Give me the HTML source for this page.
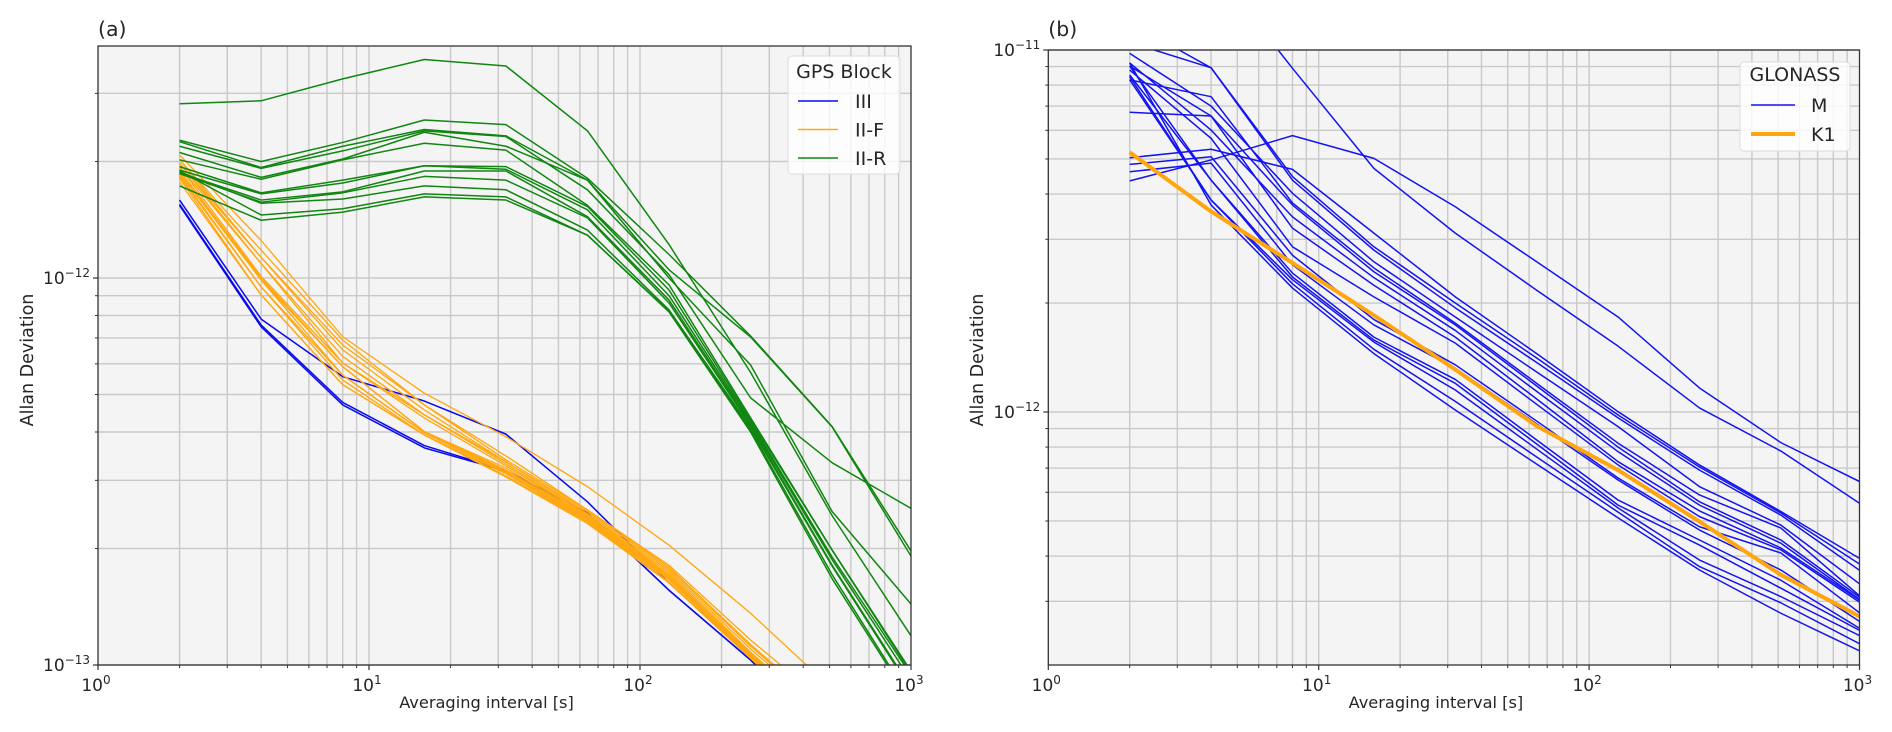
<!DOCTYPE html>
<html lang="en">
<head>
<meta charset="utf-8">
<title>Allan deviation of GPS and GLONASS clocks</title>
<style>
html,body{margin:0;padding:0;background:#fff;width:1892px;height:732px;overflow:hidden}
svg{display:block;overflow:hidden;filter:blur(0.3px)}
text{font-family:"DejaVu Sans","Liberation Sans",sans-serif;fill:#262626}
</style>
</head>
<body>
<svg id="chart" xmlns="http://www.w3.org/2000/svg" width="1892" height="732" viewBox="0 0 1892 732">
  <defs>
    <clipPath id="clip-a"><rect x="98" y="46" width="813" height="619"/></clipPath>
    <clipPath id="clip-b"><rect x="1048.3" y="50" width="811.2" height="615"/></clipPath>
  </defs>
  <g id="panel-a"></g>
  <g id="panel-b"></g>
</svg>
<script>
// Averaging intervals [s]
const tau = [2, 4, 8, 16, 32, 64, 128, 256, 512, 1024];
// Allan deviation values, in units of 1e-12
const gpsIII = [
  [1.59,0.783,0.556,0.481,0.395,0.264,0.163,0.105,0.0645,0.04],
  [1.55,0.756,0.477,0.369,0.318,0.247,0.156,0.103,0.064,0.039],
  [1.54,0.748,0.47,0.364,0.317,0.247,0.156,0.103,0.0635,0.039]
];
const gpsIIF = [
  [2.08,1.25,.705,.504,.389,.289,.204,.136,.0867,.055],
  [2.02,1.18,.691,.47,.347,.2515,.181,.116,.0775,.05],
  [2.02,1.13,.671,.47,.339,.2515,.179,.113,.074,.047],
  [1.98,1.13,.652,.456,.335,.249,.177,.112,.073,.047],
  [1.98,1.09,.627,.443,.335,.246,.175,.11,.072,.046],
  [1.94,1.09,.603,.443,.331,.244,.173,.108,.0695,.044],
  [1.94,1.01,.603,.435,.327,.243,.171,.107,.0695,.044],
  [1.90,1.0,.59,.401,.323,.241,.17,.1065,.0686,.0433],
  [1.90,.988,.59,.401,.319,.24,.169,.106,.0686,.0433],
  [1.87,.988,.561,.398,.317,.238,.168,.105,.068,.0428],
  [1.85,.948,.561,.398,.314,.237,.167,.105,.068,.0428],
  [1.83,.948,.545,.393,.312,.235,.166,.105,.067,.0422],
  [1.77,.904,.53,.393,.308,.234,.164,.104,.067,.0422],
  [1.81,.904,.53,.393,.306,.232,.163,.104,.0665,.0417]
];
const gpsIIR = [
  [2.82,2.87,3.27,3.67,3.53,2.40,1.22,0.57,0.243,0.116],
  [2.27,2.00,2.24,2.56,2.49,1.81,1.15,0.708,0.413,0.192],
  [2.25,1.93,2.19,2.42,2.33,1.79,1.05,0.704,0.412,0.186],
  [2.19,1.92,2.13,2.40,2.32,1.69,1.02,0.49,0.333,0.2515],
  [2.11,1.82,2.03,2.38,2.19,1.79,1.00,0.596,0.249,0.141],
  [2.02,1.80,2.02,2.23,2.14,1.54,.96,.435,.198,.094],
  [1.94,1.66,1.79,1.95,1.94,1.53,.931,.43,.198,.093],
  [1.90,1.65,1.76,1.95,1.91,1.50,.90,.425,.19,.092],
  [1.87,1.59,1.67,1.89,1.89,1.44,.877,.42,.187,.089],
  [1.86,1.57,1.66,1.83,1.79,1.43,.862,.415,.181,.085],
  [1.88,1.56,1.60,1.73,1.69,1.33,.827,.41,.18,.084],
  [1.89,1.455,1.51,1.65,1.62,1.29,.82,.405,.171,.079],
  [1.73,1.41,1.48,1.62,1.59,1.29,.817,.40,.167,.078]
];
const glonassM = [
  [4.35,4.97,5.80,5.02,3.69,2.60,1.83,1.165,.823,.637],
  [25.2,17.2,8.90,4.71,3.12,2.17,1.52,1.026,.78,.553],
  [5.04,5.32,4.68,3.12,2.08,1.45,1.002,.714,.531,.39],
  [10.5,8.93,4.47,2.86,2.00,1.41,.981,.705,.526,.376],
  [11.9,8.93,4.37,2.80,1.94,1.37,.963,.691,.519,.361],
  [9.79,7.00,4.02,2.60,1.83,1.29,.911,.622,.487,.331],
  [8.27,7.43,3.78,2.50,1.76,1.20,.82,.59,.478,.306],
  [6.73,6.57,3.73,2.44,1.74,1.18,.80,.565,.443,.304],
  [9.21,6.01,3.46,2.35,1.68,1.14,.777,.553,.434,.30],
  [9.03,6.57,3.22,2.24,1.61,1.086,.729,.533,.421,.299],
  [8.80,5.70,2.86,2.08,1.55,1.05,.714,.514,.416,.295],
  [4.83,5.07,2.71,1.80,1.35,.944,.657,.482,.408,.275],
  [4.61,4.87,2.55,1.74,1.32,.927,.649,.472,.366,.261],
  [9.03,4.37,2.42,1.61,1.23,.837,.571,.443,.343,.25],
  [8.53,4.37,2.36,1.58,1.20,.816,.553,.429,.326,.247],
  [8.44,3.85,2.32,1.56,1.15,.79,.543,.39,.309,.239],
  [8.27,3.85,2.26,1.49,1.07,.751,.529,.374,.297,.227],
  [9.21,3.73,2.20,1.45,1.013,.718,.51,.366,.278,.217]
];
const glonassK1 = [5.22,3.58,2.58,1.85,1.31,.915,.691,.498,.355,.27];
// Tick positions
const xMajorTicks = [1, 10, 100, 1000];
const xMajorLabels = ["0", "1", "2", "3"];
const xMinorMultipliers = [2, 3, 4, 5, 6, 7, 8, 9];
const yMinorA = [0.2,0.3,0.4,0.5,0.6,0.7,0.8,0.9,2,3];
const yMajorA = [0.1, 1];
const yMajorLabelsA = ["\u221213", "\u221212"];
const yMinorB = [0.3,0.4,0.5,0.6,0.7,0.8,0.9,2,3,4,5,6,7,8,9];
const yMajorB = [1, 10];
const yMajorLabelsB = ["\u221212", "\u221211"];

const NS = "http://www.w3.org/2000/svg";
function mk(parent, tag, attrs, txt) {
  const el = document.createElementNS(NS, tag);
  for (const k in attrs) el.setAttribute(k, attrs[k]);
  if (txt !== undefined) el.textContent = txt;
  parent.appendChild(el);
  return el;
}
function powerLabel(parent, x, y, anchor, exp) {
  const t = mk(parent, "text", {x: x, y: y, "text-anchor": anchor, "font-size": 17});
  
  
  mk(t, "tspan", {}, "10");
  mk(t, "tspan", {dy: -7, "font-size": 12}, exp);
  return t;
}
// Cut a screen-space segment to the plot rectangle (Liang-Barsky).
function clipSegment(a, b, r) {
  let t0 = 0, t1 = 1;
  const dx = b[0] - a[0], dy = b[1] - a[1];
  const p = [-dx, dx, -dy, dy];
  const q = [a[0] - r.left, r.right - a[0], a[1] - r.top, r.bottom - a[1]];
  for (let i = 0; i < 4; i++) {
    if (p[i] === 0) { if (q[i] < 0) return null; continue; }
    const u = q[i] / p[i];
    if (p[i] < 0) { if (u > t1) return null; if (u > t0) t0 = u; }
    else { if (u < t0) return null; if (u < t1) t1 = u; }
  }
  return [[a[0] + t0 * dx, a[1] + t0 * dy], [a[0] + t1 * dx, a[1] + t1 * dy]];
}
function clippedPoints(screen, r) {
  const out = [];
  for (let i = 0; i < screen.length - 1; i++) {
    const seg = clipSegment(screen[i], screen[i + 1], r);
    if (!seg) continue;
    if (!out.length) out.push(seg[0]);
    out.push(seg[1]);
  }
  return out;
}
function buildPanel(cfg) {
  const g = document.getElementById(cfg.id);
  const sx = v => cfg.left + cfg.xDecade * Math.log10(v);
  const sy = v => cfg.y1 - cfg.yDecade * Math.log10(v);
  const bg = mk(g, "rect", {x: cfg.left, y: cfg.top, width: cfg.right - cfg.left, height: cfg.bottom - cfg.top, fill: "#f4f4f4"});
  
  
  const grid = mk(g, "g", {stroke: "#c9c9c9", "stroke-width": 1.4, fill: "none"});
  
  
  const ticks = mk(g, "g", {stroke: "#333", fill: "none"});
  
  
  // x grid and ticks
  xMajorTicks.forEach(function (d, i) {
    const X = sx(d);
    if (i > 0 && i < xMajorTicks.length - 1) mk(grid, "line", {x1: X, x2: X, y1: cfg.top, y2: cfg.bottom});
    mk(ticks, "line", {x1: X, x2: X, y1: cfg.bottom, y2: cfg.bottom + 5, "stroke-width": 1.2});
    powerLabel(g, X - 2, cfg.bottom + 26, "middle", xMajorLabels[i]);
    if (i < xMajorTicks.length - 1) {
      xMinorMultipliers.forEach(function (m) {
        const Xm = sx(d * m);
        mk(grid, "line", {x1: Xm, x2: Xm, y1: cfg.top, y2: cfg.bottom});
        mk(ticks, "line", {x1: Xm, x2: Xm, y1: cfg.bottom, y2: cfg.bottom + 3, "stroke-width": 1});
      });
    }
  });
  // y grid and ticks
  cfg.yMinor.forEach(function (v) {
    const Y = sy(v);
    mk(grid, "line", {x1: cfg.left, x2: cfg.right, y1: Y, y2: Y});
    mk(ticks, "line", {x1: cfg.left - 3, x2: cfg.left, y1: Y, y2: Y, "stroke-width": 1});
  });
  cfg.yMajor.forEach(function (v, i) {
    const Y = sy(v);
    mk(grid, "line", {x1: cfg.left, x2: cfg.right, y1: Y, y2: Y});
    mk(ticks, "line", {x1: cfg.left - 5, x2: cfg.left, y1: Y, y2: Y, "stroke-width": 1.2});
    powerLabel(g, cfg.left - 8, Y + 6, "end", cfg.yLabels[i]);
  });
  // series
  const plot = mk(g, "g", {"clip-path": "url(#" + cfg.clip + ")", fill: "none", "stroke-linejoin": "round"});
  
  
  const bounds = {left: cfg.left, right: cfg.right, top: cfg.top, bottom: cfg.bottom};
  cfg.series.forEach(function (s) {
    s.rows.forEach(function (row) {
      const screen = row.map(function (v, k) { return [sx(tau[k]), sy(v)]; });
      const pts = clippedPoints(screen, bounds).map(function (p) { return p[0].toFixed(2) + "," + p[1].toFixed(2); }).join(" ");
      const line = mk(plot, "polyline", {points: pts, stroke: s.color, "stroke-width": s.width});
      
      
    });
  });
  // frame
  const frame = mk(g, "rect", {x: cfg.left, y: cfg.top, width: cfg.right - cfg.left, height: cfg.bottom - cfg.top, fill: "none", stroke: "#333", "stroke-width": 1.3});
  
  
  // labels
  const xTitle = mk(g, "text", {x: (cfg.left + cfg.right) / 2 - 18, y: cfg.bottom + 43, "text-anchor": "middle", "font-size": 16.2}, "Averaging interval [s]");
  
  
  const yTitle = mk(g, "text", {x: 0, y: 0, "text-anchor": "middle", "font-size": 17.5, transform: "translate(" + cfg.yTitleX + ",360) rotate(-90)"}, "Allan Deviation");
  
  
  const title = mk(g, "text", {x: cfg.left, y: cfg.titleY, "font-size": 20.5}, cfg.title);
  
  
  // legend
  const L = cfg.legend;
  const lg = mk(g, "g", {});
  
  
  mk(lg, "rect", {x: L.x, y: L.y, width: L.w, height: L.h, rx: 4, fill: "#ffffff", "fill-opacity": 0.8, stroke: "#dcdcdc", "stroke-width": 1});
  const lt = mk(lg, "text", {x: L.x + L.w / 2, y: L.titleY, "text-anchor": "middle", "font-size": 19}, L.title);
  
  
  L.entries.forEach(function (e, i) {
    const Y = L.firstY + i * L.stepY;
    const h = mk(lg, "line", {x1: L.hx1, x2: L.hx2, y1: Y, y2: Y, stroke: e.color, "stroke-width": e.width});
    
    
    const t = mk(lg, "text", {x: L.tx, y: Y + 7, "font-size": 19}, e.label);
    
    
  });
}
buildPanel({
  id: "panel-a", clip: "clip-a", title: "(a)", titleY: 36, yTitleX: 33,
  left: 98, right: 911, top: 46, bottom: 665, xDecade: 271, y1: 278, yDecade: 387,
  yMinor: yMinorA, yMajor: yMajorA, yLabels: yMajorLabelsA,
  series: [
    {name: "gps-iii-line", rows: gpsIII, color: "#0a0aee", width: 1.5},
    {name: "gps-ii-f-line", rows: gpsIIF, color: "#ffa811", width: 1.35},
    {name: "gps-ii-r-line", rows: gpsIIR, color: "#118611", width: 1.5}
  ],
  legend: {x: 788, y: 56, w: 112, h: 118, title: "GPS Block", titleY: 78, firstY: 101, stepY: 28.5, hx1: 798, hx2: 838, tx: 855,
    entries: [
      {label: "III", color: "#0a0aee", width: 1.5},
      {label: "II-F", color: "#ffa811", width: 1.5},
      {label: "II-R", color: "#118611", width: 1.5}
    ]}
});
buildPanel({
  id: "panel-b", clip: "clip-b", title: "(b)", titleY: 36, yTitleX: 983,
  left: 1048.3, right: 1859.5, top: 50, bottom: 665, xDecade: 270.4, y1: 412, yDecade: 362,
  yMinor: yMinorB, yMajor: yMajorB, yLabels: yMajorLabelsB,
  series: [
    {name: "glonass-m-line", rows: glonassM, color: "#1414f0", width: 1.5},
    {name: "glonass-k1-line", rows: [glonassK1], color: "#ffa60f", width: 4}
  ],
  legend: {x: 1740, y: 62, w: 110, h: 89, title: "GLONASS", titleY: 81, firstY: 105, stepY: 29, hx1: 1751, hx2: 1795, tx: 1811,
    entries: [
      {label: "M", color: "#1414f0", width: 1.5},
      {label: "K1", color: "#ffa60f", width: 4}
    ]}
});
</script>
</body>
</html>
